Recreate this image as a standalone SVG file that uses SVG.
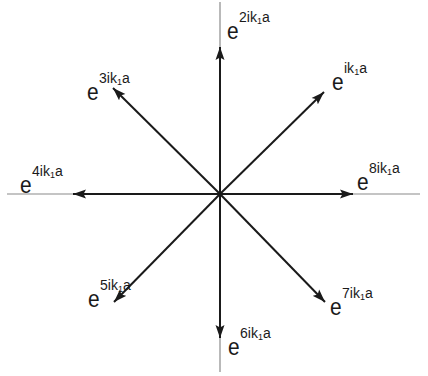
<svg xmlns="http://www.w3.org/2000/svg" width="428" height="376" viewBox="0 0 428 376">
<style>
.axis{stroke:#8a8a8a;stroke-width:1.2;fill:none}
.arr{stroke:#1a1a1a;stroke-width:2;fill:none;marker-end:url(#ah)}
text{font-family:"Liberation Sans",Arial,sans-serif;fill:#1a1a1a}
.e{font-size:22px}
.sp{font-size:14px}
.sb{font-size:9px}
</style>
<defs>
<marker id="ah" markerUnits="userSpaceOnUse" markerWidth="14" markerHeight="10" refX="13" refY="5" orient="auto">
<path d="M0,0.5 L13,5 L0,9.5 L2.5,5 z" fill="#1a1a1a"/>
</marker>
</defs>
<g id="axes">
<line class="axis" x1="220" y1="2" x2="220" y2="372"/>
<line class="axis" x1="7" y1="194" x2="420" y2="194"/>
</g>
<g id="connectors">
<line class="arr" x1="220" y1="194" x2="220" y2="47"/>
<line class="arr" x1="220" y1="194" x2="220" y2="338"/>
<line class="arr" x1="220" y1="194" x2="73" y2="194"/>
<line class="arr" x1="220" y1="194" x2="353" y2="194"/>
<line class="arr" x1="220" y1="194" x2="324" y2="92"/>
<line class="arr" x1="220" y1="194" x2="113" y2="88"/>
<line class="arr" x1="220" y1="194" x2="114" y2="302"/>
<line class="arr" x1="220" y1="194" x2="325" y2="302"/>
</g>
<g id="n1"><text class="e" transform="translate(332,90) scale(0.95,1.1)">e</text><text class="sp" x="344" y="73">ik<tspan class="sb" dy="2">1</tspan><tspan dy="-2">a</tspan></text></g>
<g id="n2"><text class="e" transform="translate(227,39) scale(0.95,1.1)">e</text><text class="sp" x="239" y="22">2ik<tspan class="sb" dy="2">1</tspan><tspan dy="-2">a</tspan></text></g>
<g id="n3"><text class="e" transform="translate(87,100) scale(0.95,1.1)">e</text><text class="sp" x="99" y="83">3ik<tspan class="sb" dy="2">1</tspan><tspan dy="-2">a</tspan></text></g>
<g id="n4"><text class="e" transform="translate(20,193) scale(0.95,1.1)">e</text><text class="sp" x="32" y="176">4ik<tspan class="sb" dy="2">1</tspan><tspan dy="-2">a</tspan></text></g>
<g id="n5"><text class="e" transform="translate(88,307) scale(0.95,1.1)">e</text><text class="sp" x="100" y="290">5ik<tspan class="sb" dy="2">1</tspan><tspan dy="-2">a</tspan></text></g>
<g id="n6"><text class="e" transform="translate(228,355) scale(0.95,1.1)">e</text><text class="sp" x="240" y="338">6ik<tspan class="sb" dy="2">1</tspan><tspan dy="-2">a</tspan></text></g>
<g id="n7"><text class="e" transform="translate(330,315) scale(0.95,1.1)">e</text><text class="sp" x="342" y="298">7ik<tspan class="sb" dy="2">1</tspan><tspan dy="-2">a</tspan></text></g>
<g id="n8"><text class="e" transform="translate(357,190) scale(0.95,1.1)">e</text><text class="sp" x="369" y="173">8ik<tspan class="sb" dy="2">1</tspan><tspan dy="-2">a</tspan></text></g>
</svg>
